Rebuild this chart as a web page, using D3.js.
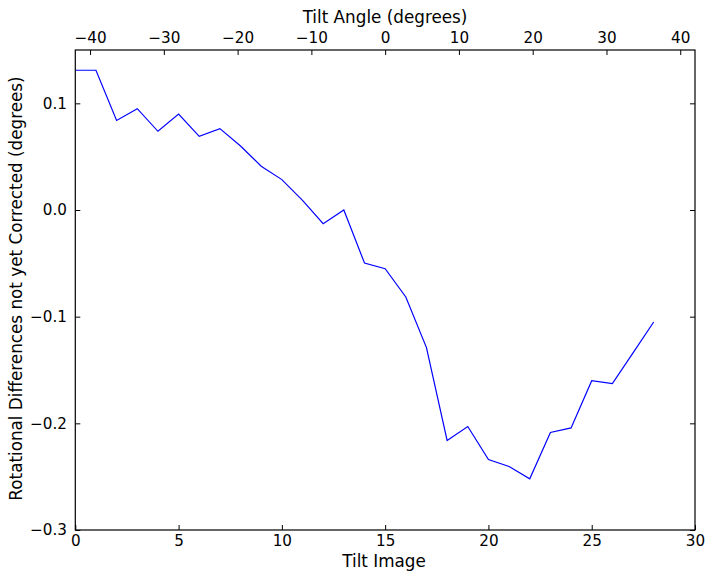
<!DOCTYPE html>
<html>
<head>
<meta charset="utf-8">
<script src="https://cdn.jsdelivr.net/npm/d3@7"></script>
<style>
  html, body { margin: 0; padding: 0; background: #fff; }
  svg text { font-family: "DejaVu Sans", sans-serif; }
</style>
</head>
<body>
<svg id="chart" width="714" height="579"></svg>
<script>
// Data
const tiltImages = [0,1,2,3,4,5,6,7,8,9,10,11,12,13,14,15,16,17,18,19,20,21,22,23,24,25,26,27,28];
const rotationalDiffs = [0.131,0.131,0.084,0.095,0.0738,0.090,0.069,0.0763,0.060,0.041,0.0285,0.0091,-0.0128,0.0,
  -0.0497,-0.055,-0.0815,-0.129,-0.216,-0.203,-0.234,-0.2405,-0.252,-0.2086,-0.2043,-0.160,-0.1627,-0.134,-0.105];
const bottomTicks = [0,5,10,15,20,25,30];
const topTicks = [-40,-30,-20,-10,0,10,20,30,40];
const yTicks = [-0.3,-0.2,-0.1,0.0,0.1];

(function(){
const svg = d3.select("#chart");
const m = {left: 75.3, right: 695, top: 50, bottom: 530};
const fsTick = 15.2;
const fsLabel = 16.8;

const x = d3.scaleLinear().domain([0,30]).range([m.left, m.right]);
const xTop = d3.scaleLinear().domain([-42,42]).range([m.left, m.right]);
const y = d3.scaleLinear().domain([-0.3,0.15]).range([m.bottom, m.top]);

const minus = s => s.replace("-", "\u2212");

// line
svg.append("path")
  .datum(tiltImages.map((t,i)=>[t, rotationalDiffs[i]]))
  .attr("fill","none").attr("stroke","#0000ff").attr("stroke-width",1.2)
  .attr("d", d3.line().x(d=>x(d[0])).y(d=>y(d[1])));

// axes
const tickLen = 5;
const gBottom = svg.append("g").attr("transform",`translate(0,${m.bottom})`)
  .call(d3.axisBottom(x).tickValues(bottomTicks).tickSizeInner(-tickLen).tickSizeOuter(0).tickPadding(5.5).tickFormat(d3.format("d")));
const gTop = svg.append("g").attr("transform",`translate(0,${m.top})`)
  .call(d3.axisTop(xTop).tickValues(topTicks).tickSizeInner(-tickLen).tickSizeOuter(0).tickPadding(6.7).tickFormat(d=>minus(String(d))));
const gLeft = svg.append("g").attr("transform",`translate(${m.left},0)`)
  .call(d3.axisLeft(y).tickValues(yTicks).tickSizeInner(-tickLen).tickSizeOuter(0).tickPadding(8.3).tickFormat(d=>minus(d3.format(".1f")(d))));
const gRight = svg.append("g").attr("transform",`translate(${m.right},0)`)
  .call(d3.axisRight(y).tickValues(yTicks).tickSizeInner(-tickLen).tickSizeOuter(0).tickFormat(""));

[gBottom, gTop, gLeft, gRight].forEach(g => {
  g.select(".domain").remove();
  g.selectAll(".tick line").attr("stroke","#000").attr("stroke-width",1);
  g.selectAll(".tick text").attr("fill","#000").style("font-size", fsTick+"px").style("font-family","DejaVu Sans, sans-serif");
});

// frame
svg.append("rect").attr("x",m.left).attr("y",m.top).attr("width",m.right-m.left).attr("height",m.bottom-m.top)
  .attr("fill","none").attr("stroke","#000").attr("stroke-width",1.2);

// labels
svg.append("text").attr("x",384).attr("y",566.7).attr("text-anchor","middle")
  .style("font-size",fsLabel+"px").text("Tilt Image");
svg.append("text").attr("x",385).attr("y",23.3).attr("text-anchor","middle")
  .style("font-size",fsLabel+"px").text("Tilt Angle (degrees)");
svg.append("text").attr("transform",`translate(22,288.5) rotate(-90)`).attr("text-anchor","middle")
  .style("font-size",fsLabel+"px").text("Rotational Differences not yet Corrected (degrees)");
})();
</script>
</body>
</html>
